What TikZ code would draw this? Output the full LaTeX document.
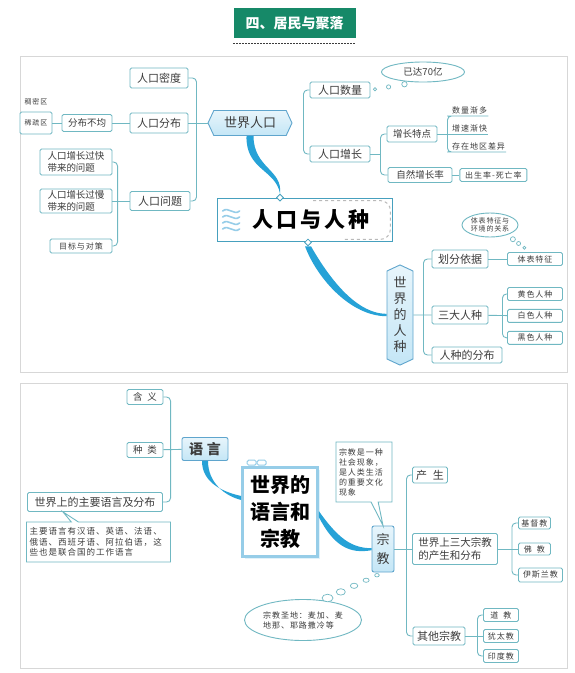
\documentclass[tikz,border=0pt]{standalone}
\usepackage{fontspec}
\setmainfont{Noto Sans CJK SC}
\newfontfamily\spfont{Noto Sans CJK SC}[LetterSpace=12]
\usepackage{xcolor}
\usepackage{tikz}
\usetikzlibrary{arrows.meta,positioning,shapes.geometric,shapes.symbols,shapes.callouts,shadows,calc}

\definecolor{linec}{RGB}{112,184,194}
\definecolor{corec}{RGB}{70,160,190}
\definecolor{txtc}{RGB}{60,60,60}
\definecolor{titleg}{RGB}{22,137,104}
\definecolor{curveb}{RGB}{38,162,215}
\definecolor{lblue}{RGB}{196,230,246}
\definecolor{hexb}{RGB}{95,165,205}
\definecolor{framec}{RGB}{215,215,215}
\definecolor{paleb}{RGB}{150,205,232}

\begin{document}
\begin{tikzpicture}[
    x=1pt, y=-1pt,
    font=\fontsize{11}{13}\selectfont,
    % Styles
    box/.style 2 args={rectangle, draw=linec, line width=0.9pt, fill=white, rounded corners=1.5pt, text=txtc, inner sep=1pt, minimum width=#1pt, minimum height=#2pt, align=center},
    fmid/.style={font=\fontsize{9.5}{11.5}\selectfont},
    fsmall/.style={font=\spfont\fontsize{8}{10}\selectfont},
    ftiny/.style={font=\spfont\fontsize{7}{8}\selectfont},
    leaf/.style={text=txtc, inner xsep=1pt, inner ysep=1.5pt, fsmall},
    hexa/.style={signal, signal to=east and west, signal pointer angle=130, draw=hexb, line width=0.9pt, top color=lblue!40, bottom color=lblue, text=txtc, inner sep=1pt, align=center},
    thought/.style={ellipse, draw=linec, line width=0.9pt, fill=white, text=txtc, inner sep=0pt, align=center},
    callnote/.style={rectangle callout, draw=linec, line width=0.9pt, fill=white, text=txtc, inner sep=3pt, align=left},
    bluebox/.style={rectangle, draw=hexb, line width=0.9pt, rounded corners=2pt, top color=lblue!40, bottom color=lblue, text=txtc, inner sep=1pt, align=center},
    core/.style={rectangle, draw=corec, line width=1.8pt, fill=white, text=black, align=center},
    joint/.style={diamond, draw=corec, fill=white, line width=0.8pt, inner sep=0pt, minimum size=7pt},
    link/.style={draw=linec, line width=0.9pt, rounded corners=4pt},
    trunk/.style={fill=curveb},
    bubble/.style={draw=linec, line width=0.7pt, fill=white},
    swirl/.style={draw=paleb, line width=1.6pt, line cap=round},
    framebox/.style={draw=framec, line width=0.8pt}
]

\fill[white] (0,0) rectangle (574,673);
\useasboundingbox (0,0) rectangle (574,673);

% --- Title ---
\node[fill=titleg, text=white, font=\fontsize{14}{16}\selectfont\bfseries, minimum width=122pt, minimum height=30pt] (title) at (294.5,23) {四、居民与聚落};
\draw[txtc, line width=1.3pt, dash pattern=on 1.3pt off 1.7pt] ([yshift=-5pt]title.south west) -- ([yshift=-5pt]title.south east);

% --- Panel frames ---
\draw[framebox] (20,56) rectangle (567,372);
\draw[framebox] (20,383) rectangle (567,668);

% --- World population (upper panel) ---
\node[hexa, minimum width=84pt, minimum height=25pt, font=\fontsize{13}{15}\selectfont] (pop_world) at (250,123) {世界人口};
\node[box={58}{20}] (pop_density) at (159,78) {人口密度};
\node[box={58}{20}] (pop_dist) at (159,123) {人口分布};
\node[box={60}{19}] (pop_prob) at (160,201) {人口问题};
\node[box={50}{17}, fmid] (uneven) at (87,123) {分布不均};
\node[box={32}{22}, ftiny] (sparse) at (36,123) {稀疏区};
\node[ftiny, text=txtc] (dense) at (36,102) {稠密区};
\node[box={72}{26}, fmid, align=left] (prob_fast) at (76,162) {人口增长过快\\带来的问题};
\node[box={72}{24}, fmid, align=left] (prob_slow) at (76,201) {人口增长过慢\\带来的问题};
\node[box={62}{14}, fsmall] (policy) at (81,246) {目标与对策};

\node[box={60}{16}] (pop_num) at (340,90) {人口数量};
\node[box={60}{16}] (pop_grow) at (340,154) {人口增长};
\node[thought, minimum width=83pt, minimum height=20pt, fmid] (reached) at (423,72) {已达70亿};
\node[box={50}{16}, fmid] (grow_feat) at (412,134) {增长特点};
\node[box={64}{15}, fmid] (nat_rate) at (420,175) {自然增长率};
\node[box={67}{13}, fsmall, right=7pt of nat_rate] (rate_def) {出生率-死亡率};
\node[leaf, anchor=south west] (feat_a) at (451,116) {数量渐多};
\node[leaf, anchor=south west] (feat_b) at (451,134) {增速渐快};
\node[leaf, anchor=south west] (feat_c) at (451,152) {存在地区差异};

% --- Core topic ---
\node[core, minimum width=175pt, minimum height=43pt, font=\fontsize{21}{24}\selectfont\bfseries] (core_a) at (305,220) {\hspace*{12pt}人\hspace{3pt}口\hspace{3pt}与\hspace{3pt}人\hspace{3pt}种};
\draw[gray!55, line width=1pt, dashed, rounded corners=10pt] ([xshift=8pt,yshift=-3pt]core_a.north) -- ([xshift=-3pt,yshift=-3pt]core_a.north east) -- ([xshift=-3pt,yshift=3pt]core_a.south east) -- ([xshift=38pt,yshift=3pt]core_a.south);
\foreach \dy in {-9,-3,3,9}
  \draw[swirl] ([xshift=6pt,yshift=\dy pt]core_a.west) .. controls +(6,-5) and +(-6,5) .. +(17,0);
\node[joint] (join_a) at ([xshift=-25pt]core_a.north) {};
\node[joint] (join_b) at ([xshift=3pt]core_a.south) {};

% --- Human races ---
\node[hexa, signal to=north and south, minimum width=26pt, minimum height=95pt, font=\fontsize{13}{16}\selectfont] (race_world) at (400,315) {世\\界\\的\\人\\种};
\node[box={56}{18}] (race_basis) at (460,259) {划分依据};
\node[box={56}{18}] (race_three) at (460,315) {三大人种};
\node[box={70}{16}] (race_dist) at (467,355) {人种的分布};
\node[box={55}{13}, fsmall] (body_feat) at (535,259) {体表特征};
\node[thought, minimum width=56pt, minimum height=24pt, font=\spfont\fontsize{7}{8.5}\selectfont] (body_note) at (490,225) {体表特征与\\环境的关系};
\node[box={55}{13}, fsmall] (race_yellow) at (535,294) {黄色人种};
\node[box={55}{13}, fsmall, below=8pt of race_yellow] (race_white) {白色人种};
\node[box={55}{13}, fsmall, below=8pt of race_white] (race_black) {黑色人种};

% --- Connections (upper panel) ---
\draw[link] (pop_world.west) -- (pop_dist.east);
\draw[link] (pop_density.east) -| ([xshift=-11pt]pop_world.west);
\draw[link] (pop_prob.east) -| ([xshift=-11pt]pop_world.west);
\draw[link] (pop_dist) -- (uneven);
\draw[link] (uneven) -- (sparse);
\draw[link] (pop_prob.west) -- (prob_slow.east);
\draw[link] (prob_fast.east) -| ([xshift=-12pt]pop_prob.west);
\draw[link] (policy.east) -| ([xshift=-12pt]pop_prob.west);

\draw[link] (pop_num.west) -| ([xshift=11pt]pop_world.east);
\draw[link] (pop_grow.west) -| ([xshift=11pt]pop_world.east);
\draw[link] (pop_grow.east) -- ([xshift=10pt]pop_grow.east);
\draw[link] (grow_feat.west) -| ([xshift=10pt]pop_grow.east);
\draw[link] (nat_rate.west) -| ([xshift=10pt]pop_grow.east);
\draw[link] (nat_rate) -- (rate_def);
\draw[link] (grow_feat.east) -- (feat_b.south east);
\draw[link] (feat_a.south east) -- (feat_a.south west) -| ([xshift=10pt]grow_feat.east);
\draw[link] (feat_c.south east) -- (feat_c.south west) -| ([xshift=10pt]grow_feat.east);

\draw[link] (race_world) -- (race_three);
\draw[link] (race_basis.west) -| ([xshift=10pt]race_world.east);
\draw[link] (race_dist.west) -| ([xshift=10pt]race_world.east);
\draw[link] (race_basis) -- (body_feat);
\draw[link] (race_three) -- (race_white);
\draw[link] (race_yellow.west) -| ([xshift=14pt]race_three.east);
\draw[link] (race_black.west) -| ([xshift=14pt]race_three.east);

% thought bubbles
\foreach \pos/\rad in {0.1/1.6,0.4/2.1,0.75/2.7}
  \draw[bubble] ($(pop_num.east)!\pos!(reached.235)$) circle [radius=\rad pt];
\foreach \pos/\rad in {0.25/2.5,0.5/2,0.75/1.5}
  \draw[bubble] ($(body_note.330)!\pos!([xshift=-5pt]body_feat.north)$) circle [radius=\rad pt];

% main curves
\fill[trunk] ([xshift=-3.5pt]pop_world.south) .. controls +(-1,34) and +(-4,-24) .. (join_a.north) .. controls +(3,-24) and +(0,32) .. ([xshift=3.5pt]pop_world.south) -- cycle;
\fill[trunk] ([xshift=-3pt]join_b.south) .. controls +(12,32) and +(-36,0) .. ([yshift=-1.2pt]race_world.west) -- ([yshift=1.2pt]race_world.west) .. controls +(-32,0) and +(16,28) .. ([xshift=3pt]join_b.south) -- cycle;

% --- Languages and religions (lower panel) ---
\node[box={36}{15}, fmid] (lang_mean) at (145,397) {含\hspace{5pt}义};
\node[box={36}{15}, fmid] (lang_kind) at (145,450) {种\hspace{5pt}类};
\node[bluebox, minimum width=46pt, minimum height=23pt, font=\fontsize{14}{16}\selectfont\bfseries] (lang) at (205,449) {语\hspace{4pt}言};
\node[box={135}{19}] (lang_main) at (95,502) {世界上的主要语言及分布};
\node[callnote, text width=138pt, minimum height=40pt, font=\spfont\fontsize{8.5}{10.5}\selectfont, callout absolute pointer={([xshift=-32pt]lang_main.south)}] (lang_note) at (98.5,542) {主要语言有汉语、英语、法语、\\俄语、西班牙语、阿拉伯语，这\\些也是联合国的工作语言};

\node[core, draw=paleb, line width=2.6pt, minimum width=75pt, minimum height=89pt, drop shadow={shadow xshift=2pt, shadow yshift=-2pt, fill=lblue}, font=\fontsize{20}{27}\selectfont\bfseries] (core_b) at (280,512) {世界的\\语言和\\宗教};
\foreach \dx in {6,16}
  \draw[paleb, line width=1pt, fill=white, rounded corners=1.5pt] ([xshift=\dx pt,yshift=1pt]core_b.north west) rectangle +(9,-5);

\node[bluebox, minimum width=22pt, minimum height=46pt, font=\fontsize{13}{19}\selectfont] (relig) at (383,549) {宗\\教};
\node[callnote, text width=50pt, minimum height=60pt, font=\spfont\fontsize{8}{10}\selectfont, callout absolute pointer={(relig.north)}] (relig_note) at (364,472) {宗教是一种\\社会现象，\\是人类生活\\的重要文化\\现象};
\node[box={35}{16}] (relig_origin) at (430,475) {产\hspace{6pt}生};
\node[box={85}{31}, font=\fontsize{10.5}{13}\selectfont, align=left] (relig_three) at (455,549) {世界上三大宗教\\的产生和分布};
\node[box={52}{18}] (relig_other) at (439,636) {其他宗教};
\node[box={32}{12}, fsmall, anchor=west] (christ) at (518,523) {基督教};
\node[box={32}{12}, fsmall, anchor=west] (buddh) at (518,549) {佛\hspace{5pt}教};
\node[box={44}{14}, fsmall, anchor=west] (islam) at (518,575) {伊斯兰教};
\node[box={35}{13}, fsmall, anchor=west] (tao) at (483,615) {道\hspace{5pt}教};
\node[box={35}{13}, fsmall, anchor=west] (jud) at (483,636) {犹太教};
\node[box={35}{13}, fsmall, anchor=west] (hindu) at (483,656) {印度教};
\node[thought, minimum width=117pt, minimum height=41pt, font=\spfont\fontsize{8}{10}\selectfont, align=left] (holy_note) at (303,620) {宗教圣地：麦加、麦\\地那、耶路撒冷等};

% --- Connections (lower panel) ---
\draw[link] (lang_mean.east) -| ([xshift=-11pt]lang.west);
\draw[link] (lang_kind) -- (lang);
\draw[link] (lang_main.east) -| ([xshift=-11pt]lang.west);
\draw[link] (relig_origin.west) -| ([xshift=12pt]relig.east);
\draw[link] (relig) -- (relig_three);
\draw[link] (relig_other.west) -| ([xshift=12pt]relig.east);
\draw[link] (christ.west) -| ([xshift=14pt]relig_three.east);
\draw[link] (relig_three) -- (buddh);
\draw[link] (islam.west) -| ([xshift=14pt]relig_three.east);
\draw[link] (tao.west) -| ([xshift=12pt]relig_other.east);
\draw[link] (relig_other) -- (jud);
\draw[link] (hindu.west) -| ([xshift=12pt]relig_other.east);

\foreach \pos/\rx/\ry in {0.08/5.5/3.8,0.3/4.5/3.2,0.52/3.7/2.6,0.72/3/2.1,0.9/2.3/1.7}
  \draw[bubble] ($(holy_note.45)!\pos!(relig.south)$) ellipse [x radius=\rx pt, y radius=\ry pt];

\fill[trunk] ([xshift=-3pt]lang.south) .. controls +(0,22) and +(-18,-4) .. ([yshift=16pt]core_b.west) -- ([yshift=12pt]core_b.west) .. controls +(-16,-4) and +(0,22) .. ([xshift=3pt]lang.south) -- cycle;
\fill[trunk] ([yshift=1pt]core_b.east) .. controls +(19,27) and +(-20,0) .. ([yshift=0.8pt]relig.west) -- ([yshift=-1.2pt]relig.west) .. controls +(-22,4) and +(15,29) .. ([yshift=-5pt]core_b.east) -- cycle;

\end{tikzpicture}
\end{document}
